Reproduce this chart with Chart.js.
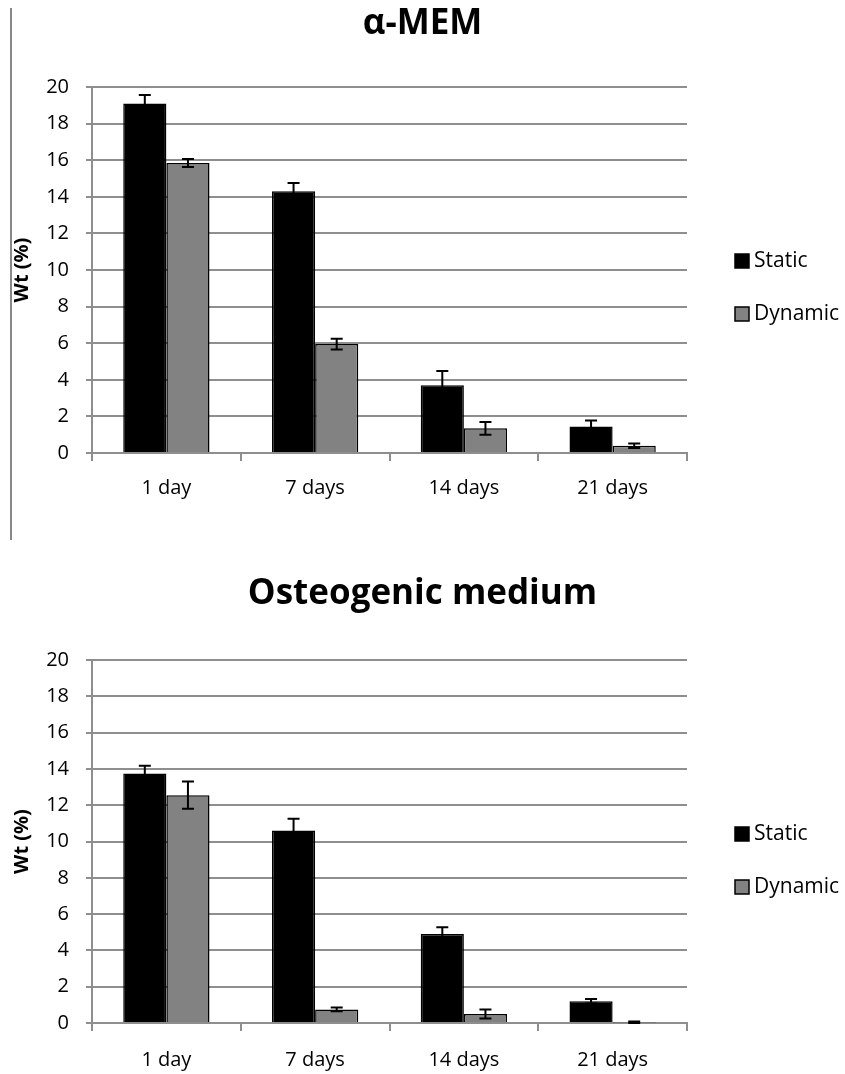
<!DOCTYPE html>
<html lang="en">
<head>
  <meta charset="UTF-8">
  <title>Wt (%) – α-MEM / Osteogenic medium</title>
  <script src="https://cdn.jsdelivr.net/npm/chart.js"></script>
  <style>
    body {
      margin: 0;
      background: #fff;
      font-family: 'Open Sans', sans-serif;
      overflow: hidden;
    }
    .panel {
      position: absolute;
      left: 0;
      width: 845px;
    }
    #topPanel { top: 0; height: 540px; }
    #bottomPanel { top: 560px; height: 514px; }
    .edge {
      position: absolute;
      left: 10px;
      top: 8px;
      width: 0;
      height: 532px;
      border-left: 2px solid #888;
    }
  </style>
</head>
<body>
  <div class="edge"></div>
  <div class="panel" id="topPanel"><canvas id="memChart"></canvas></div>
  <div class="panel" id="bottomPanel"><canvas id="osteoChart"></canvas></div>

  <script>
    const categories = ['1 day', '7 days', '14 days', '21 days'];
    const seriesNames = ['Static', 'Dynamic'];
    const yTicks = [0, 2, 4, 6, 8, 10, 12, 14, 16, 18, 20];

    // α-MEM
    const memStatic = [19.1, 14.3, 3.7, 1.45];
    const memStaticErr = [0.46, 0.46, 0.78, 0.32];
    const memDynamic = [15.85, 5.95, 1.35, 0.4];
    const memDynamicErr = [0.22, 0.3, 0.35, 0.12];

    // Osteogenic medium
    const osteoStatic = [13.75, 10.6, 4.9, 1.2];
    const osteoStaticErr = [0.42, 0.66, 0.38, 0.12];
    const osteoDynamic = [12.55, 0.75, 0.5, 0.03];
    const osteoDynamicErr = [0.75, 0.1, 0.25, 0.05];

    const gridGray = '#8e8e8e';

    // whiskers drawn from each bar element and the y scale
    const errorBars = {
      id: 'errorBars',
      afterDatasetsDraw(chart) {
        const ctx = chart.ctx;
        const y = chart.scales.y;
        ctx.save();
        ctx.strokeStyle = '#000';
        ctx.lineWidth = 2;
        chart.data.datasets.forEach((ds, i) => {
          if (!ds.errors) return;
          chart.getDatasetMeta(i).data.forEach((bar, j) => {
            const v = ds.data[j], e = ds.errors[j];
            const top = y.getPixelForValue(v + e);
            const bot = y.getPixelForValue(Math.max(v - e, 0));
            ctx.beginPath();
            ctx.moveTo(bar.x, top); ctx.lineTo(bar.x, bot);
            ctx.moveTo(bar.x - 6, top); ctx.lineTo(bar.x + 6, top);
            ctx.moveTo(bar.x - 6, bot); ctx.lineTo(bar.x + 6, bot);
            ctx.stroke();
          });
        });
        ctx.restore();
      }
    };

    // simple legend on the right, positioned from the chart area
    const sideLegend = {
      id: 'sideLegend',
      afterDraw(chart, args, opts) {
        const ctx = chart.ctx;
        const area = chart.chartArea;
        ctx.save();
        ctx.font = '21px "Open Sans"';
        ctx.textBaseline = 'middle';
        chart.data.datasets.forEach((ds, i) => {
          const x = area.right + opts.offsetX;
          const cy = area.top + opts.offsetY + i * opts.spacing;
          ctx.fillStyle = ds.backgroundColor;
          ctx.fillRect(x, cy - 7, 14, 14);
          ctx.strokeStyle = '#000';
          ctx.lineWidth = 1.5;
          ctx.strokeRect(x, cy - 7, 14, 14);
          ctx.fillStyle = '#000';
          ctx.fillText(ds.label, x + 19, cy);
        });
        ctx.restore();
      }
    };

    function makeChart(id, title, staticVals, staticErr, dynVals, dynErr, geo) {
      return new Chart(document.getElementById(id), {
        type: 'bar',
        data: {
          labels: categories,
          datasets: [
            {
              label: seriesNames[0],
              data: staticVals,
              errors: staticErr,
              backgroundColor: '#000000',
              borderColor: '#000000',
              borderWidth: 1.5
            },
            {
              label: seriesNames[1],
              data: dynVals,
              errors: dynErr,
              backgroundColor: '#828282',
              borderColor: '#000000',
              borderWidth: 1.5
            }
          ]
        },
        options: {
          responsive: true,
          maintainAspectRatio: false,
          animation: false,
          datasets: { bar: { barPercentage: 1, categoryPercentage: 0.58 } },
          plugins: {
            legend: { display: false },
            tooltip: { enabled: false },
            title: {
              display: true,
              text: title,
              color: '#000',
              font: { family: 'Open Sans', size: 35, weight: 'bold', lineHeight: 1.2 },
              padding: { top: geo.titleTop, bottom: geo.titleBottom }
            },
            sideLegend: { offsetX: 48, offsetY: 174, spacing: 53 }
          },
          scales: {
            x: {
              afterFit(scale) { scale.height = geo.xHeight; },
              border: { color: gridGray, width: 2 },
              grid: {
                offset: true,
                drawOnChartArea: false,
                color: gridGray,
                lineWidth: 2,
                tickLength: 8
              },
              ticks: {
                color: '#000',
                padding: geo.xPad,
                font: { family: 'Open Sans', size: 20 }
              }
            },
            y: {
              min: 0,
              max: 20,
              afterFit(scale) { scale.width = 92; },
              afterBuildTicks(scale) { scale.ticks = yTicks.map(v => ({ value: v })); },
              border: { color: gridGray, width: 2 },
              grid: { color: gridGray, lineWidth: 2, tickLength: 6 },
              ticks: {
                color: '#000',
                padding: 17,
                font: { family: 'Open Sans', size: 20 }
              },
              title: {
                display: true,
                text: 'Wt (%)',
                color: '#000',
                padding: { top: 10, bottom: 0 },
                font: { family: 'Open Sans', size: 20, weight: 'bold', lineHeight: 1.2 }
              }
            },
            // empty right-hand scale that keeps room for the legend
            legendSpace: {
              position: 'right',
              display: true,
              afterFit(scale) { scale.width = 158; },
              grid: { display: false, drawTicks: false },
              border: { display: false },
              ticks: { display: false }
            }
          }
        },
        plugins: [errorBars, sideLegend]
      });
    }

    makeChart('memChart', 'α-MEM', memStatic, memStaticErr, memDynamic, memDynamicErr,
      { titleTop: 3.5, titleBottom: 41.5, xHeight: 87, xPad: 15 });
    makeChart('osteoChart', 'Osteogenic medium', osteoStatic, osteoStaticErr, osteoDynamic, osteoDynamicErr,
      { titleTop: 13.5, titleBottom: 44.5, xHeight: 51, xPad: 17 });
  </script>
</body>
</html>
